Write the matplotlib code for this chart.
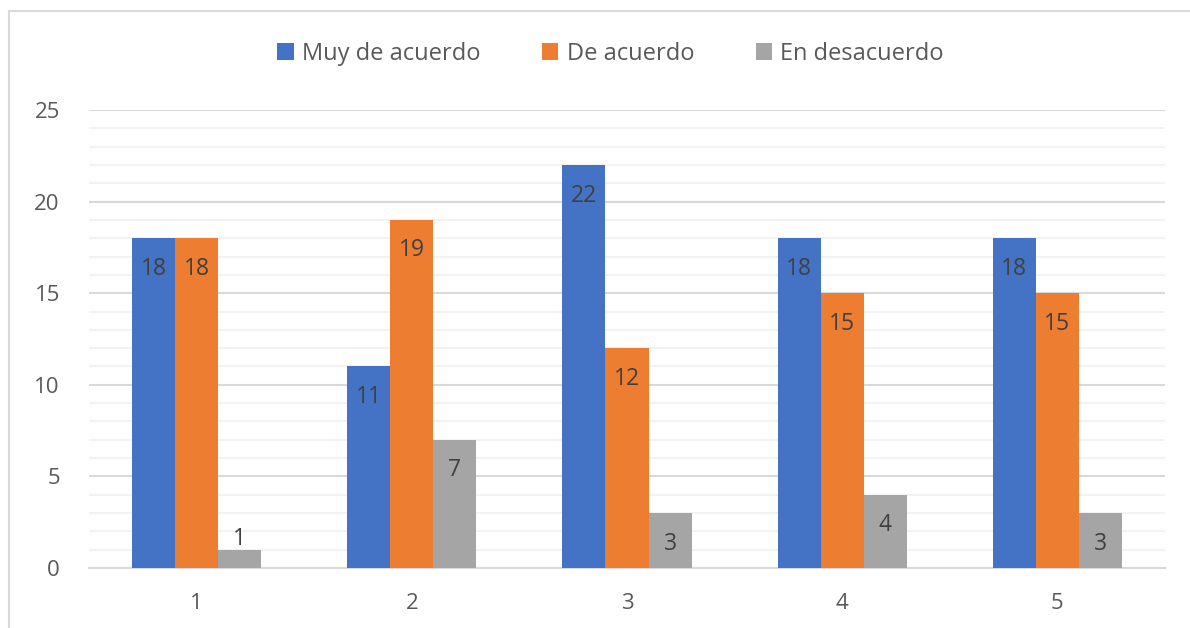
import matplotlib.pyplot as plt
import numpy as np
from matplotlib.patches import Rectangle

# datos
categories = ['1', '2', '3', '4', '5']
muy_de_acuerdo = [18, 11, 22, 18, 18]
de_acuerdo = [18, 19, 12, 15, 15]
en_desacuerdo = [1, 7, 3, 4, 3]
series_names = ['Muy de acuerdo', 'De acuerdo', 'En desacuerdo']
colors = ['#4472C4', '#ED7D31', '#A5A5A5']

plt.rcParams['font.family'] = ['Open Sans', 'DejaVu Sans']
text_color = '#595959'

fig = plt.figure(figsize=(11.9, 6.28), dpi=100)
ax = fig.add_axes([89 / 1190, 1 - 568 / 628, (1165 - 89) / 1190, (568 - 110) / 628])

# marco del grafico
fig.patches.append(Rectangle((9 / 1190, -0.1), 1.2, 1 - 11 / 628 + 0.1,
                             transform=fig.transFigure, fill=False,
                             edgecolor='#d9d9d9', linewidth=1.5))

x = np.arange(len(categories))
width = 0.2
all_series = [muy_de_acuerdo, de_acuerdo, en_desacuerdo]

for i, (vals, name, col) in enumerate(zip(all_series, series_names, colors)):
    bars = ax.bar(x + (i - 1) * width, vals, width, color=col, label=name, zorder=3)
    for b, v in zip(bars, vals):
        cx = b.get_x() + b.get_width() / 2
        if v >= 2:
            ax.annotate(str(v), (cx, v), xytext=(0, -22), textcoords='offset points',
                        ha='center', va='center', fontsize=16.5, color='#404040', zorder=4)
        else:
            ax.annotate(str(v), (cx, v), xytext=(0, 8), textcoords='offset points',
                        ha='center', va='center', fontsize=16.5, color='#404040', zorder=4)

ax.set_xlim(-0.5, len(categories) - 0.5)
ax.set_ylim(0, 25)
ax.set_xticks(x)
ax.set_xticklabels(categories)
ax.set_yticks(range(0, 26, 5))
ax.set_yticks(range(0, 26, 1), minor=True)

ax.grid(axis='y', which='minor', color='#f2f2f2', linewidth=1.5, zorder=0)
ax.grid(axis='y', which='major', color='#d9d9d9', linewidth=1.5, zorder=1)

for s in ['top', 'right', 'left']:
    ax.spines[s].set_visible(False)
ax.spines['bottom'].set_color('#d9d9d9')
ax.spines['bottom'].set_linewidth(1.5)

ax.tick_params(axis='both', which='both', length=0, labelsize=16, colors=text_color)
ax.tick_params(axis='y', pad=21)
ax.tick_params(axis='x', pad=18)

leg = fig.legend(loc='center', bbox_to_anchor=(0.513, 1 - 54 / 628), ncol=3,
                 frameon=False, fontsize=17, handlelength=0.7, handleheight=0.7,
                 handletextpad=0.35, columnspacing=2.6)
for t in leg.get_texts():
    t.set_color(text_color)

fig.savefig('out.png', dpi=100)
